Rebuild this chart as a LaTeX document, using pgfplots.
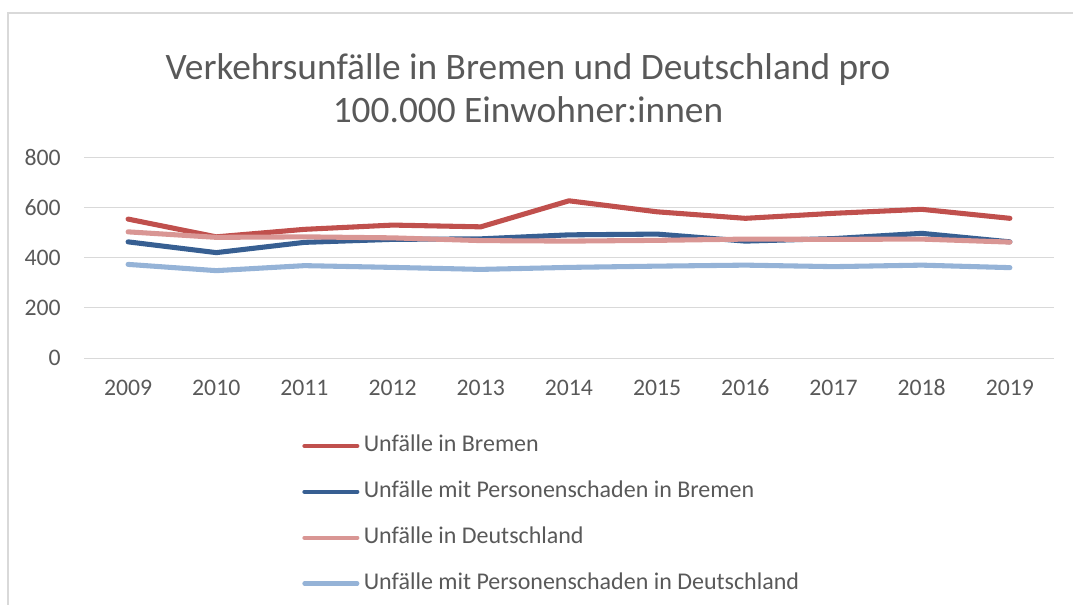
\documentclass[border=0pt]{standalone}
\usepackage{pgfplots}
\pgfplotsset{compat=1.18}
\usepackage{fontspec}
\setmainfont{Carlito}
\definecolor{txt}{HTML}{595959}
\definecolor{gridc}{HTML}{D9D9D9}
\definecolor{cA}{HTML}{C0504D}
\definecolor{cB}{HTML}{375F92}
\definecolor{cC}{HTML}{D99694}
\definecolor{cD}{HTML}{95B3D7}
\begin{document}
\begin{tikzpicture}
\useasboundingbox (0,0) rectangle (1073*0.75pt,-604*0.75pt);
\draw[gridc, line width=1.2pt] (8*0.75pt,-610*0.75pt) -- (8*0.75pt,-13*0.75pt) -- (1080*0.75pt,-13*0.75pt);
\node[txt, font=\fontsize{28}{32}\selectfont, align=center, inner sep=0pt] at (528*0.75pt,-88*0.75pt) {Verkehrsunfälle in Bremen und Deutschland pro\\100.000 Einwohner:innen};
\begin{axis}[
  at={(84*0.75pt,-358*0.75pt)}, anchor=south west,
  scale only axis, width=727.5pt, height=150.2pt,
  xmin=2008.5, xmax=2019.5, ymin=0, ymax=800,
  ytick={0,200,...,800}, xtick={2009,...,2019},
  axis line style={draw=none}, tick style={draw=none},
  ymajorgrids, grid style={gridc, line width=0.75pt},
  ticklabel style={txt, font=\fontsize{17.8}{20}\selectfont},
  /pgf/number format/assume math mode=true,
  /pgf/number format/1000 sep={},
  yticklabel style={inner sep=0pt, xshift=-17.25pt},
  xticklabel style={inner sep=0pt, anchor=base, yshift=-28.2pt},
  legend style={draw=none, fill=none, at={(0.2181,-0.368)}, anchor=north west,
    font=\fontsize{18}{20}\selectfont, text=txt, row sep=17.4pt,
    nodes={inner sep=0pt, text height=13pt, text depth=4pt}},
  legend cell align=left,
  legend image code/.code={\draw[#1, line width=3.2pt, line cap=round] (1.6pt,0pt) -- (41.2pt,0pt); \path (0pt,0pt) (44.2pt,0pt);},
  every axis plot/.append style={line width=3.8pt, line join=round, line cap=round},
]
\addplot[cA] coordinates {(2009,555) (2010,484) (2011,514) (2012,531) (2013,524) (2014,628) (2015,584) (2016,558) (2017,578) (2018,594) (2019,558)};
\addlegendentry{Unfälle in Bremen}
\addplot[cB] coordinates {(2009,464) (2010,421) (2011,462) (2012,474) (2013,476) (2014,492) (2015,495) (2016,467) (2017,477) (2018,498) (2019,464)};
\addlegendentry{Unfälle mit Personenschaden in Bremen}
\addplot[cC] coordinates {(2009,504) (2010,482) (2011,484) (2012,480) (2013,469) (2014,467) (2015,470) (2016,475) (2017,474) (2018,475) (2019,463)};
\addlegendentry{Unfälle in Deutschland}
\addplot[cD] coordinates {(2009,374) (2010,349) (2011,369) (2012,362) (2013,354) (2014,362) (2015,367) (2016,371) (2017,365) (2018,371) (2019,361)};
\addlegendentry{Unfälle mit Personenschaden in Deutschland}
\end{axis}
\end{tikzpicture}
\end{document}
